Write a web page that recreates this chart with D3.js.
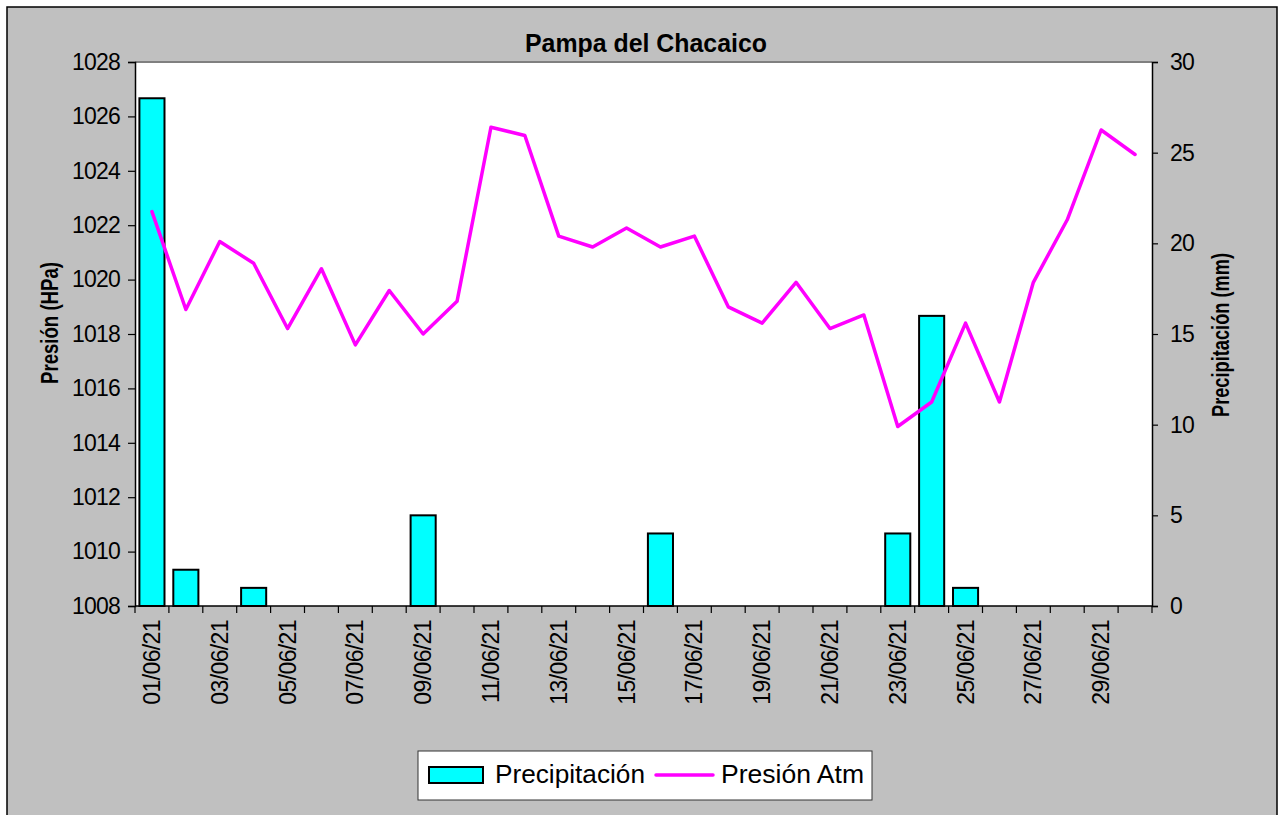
<!DOCTYPE html>
<html>
<head>
<meta charset="utf-8">
<script src="https://cdn.jsdelivr.net/npm/d3@7"></script>
<style>
  body { margin: 0; background: #fff; }
  svg { display: block; font-family: "Liberation Sans", Arial, sans-serif; }
</style>
</head>
<body>
<svg id="chart" width="1278" height="815"></svg>
<script>
const days = ['01/06/21','02/06/21','03/06/21','04/06/21','05/06/21','06/06/21','07/06/21','08/06/21','09/06/21','10/06/21',
  '11/06/21','12/06/21','13/06/21','14/06/21','15/06/21','16/06/21','17/06/21','18/06/21','19/06/21','20/06/21',
  '21/06/21','22/06/21','23/06/21','24/06/21','25/06/21','26/06/21','27/06/21','28/06/21','29/06/21','30/06/21'];
const precipitacion = [28, 2, 0, 1, 0, 0, 0, 0, 5, 0, 0, 0, 0, 0, 0, 4, 0, 0, 0, 0, 0, 0, 4, 16, 1, 0, 0, 0, 0, 0];
const presion = [1022.5, 1018.9, 1021.4, 1020.6, 1018.2, 1020.4, 1017.6, 1019.6, 1018.0, 1019.2,
  1025.6, 1025.3, 1021.6, 1021.2, 1021.9, 1021.2, 1021.6, 1019.0, 1018.4, 1019.9,
  1018.2, 1018.7, 1014.6, 1015.5, 1018.4, 1015.5, 1019.9, 1022.2, 1025.5, 1024.6];
const presionTicks = d3.range(1008, 1029, 2);
const precipTicks = d3.range(0, 31, 5);

const svg = d3.select('#chart');
const plotL = 135, plotR = 1152, plotT = 62, plotB = 606;

// chart background + frame
svg.append('rect').attr('x', 7).attr('y', 7).attr('width', 1270).attr('height', 820)
  .attr('fill', '#c0c0c0').attr('stroke', '#000').attr('stroke-width', 1.5);
svg.append('rect').attr('x', plotL).attr('y', plotT).attr('width', plotR - plotL).attr('height', plotB - plotT)
  .attr('fill', '#fff');
svg.append('line').attr('x1', plotL).attr('x2', plotR).attr('y1', plotT).attr('y2', plotT)
  .attr('stroke', '#808080').attr('stroke-width', 2);

const x = d3.scaleBand().domain(days).range([plotL, plotR]).paddingInner(0.26).paddingOuter(0.13);
const yP = d3.scaleLinear().domain([1008, 1028]).range([plotB, plotT]);
const yR = d3.scaleLinear().domain([0, 30]).range([plotB, plotT]);
const step = x.step();

// bars
svg.append('g').selectAll('rect')
  .data(days.map((d, i) => ({ d, v: precipitacion[i] })).filter(o => o.v > 0))
  .enter().append('rect')
  .attr('x', o => x(o.d))
  .attr('y', o => yR(o.v))
  .attr('width', x.bandwidth())
  .attr('height', o => plotB - yR(o.v))
  .attr('fill', '#00ffff')
  .attr('stroke', '#000')
  .attr('stroke-width', 2);

// pressure line
svg.append('path')
  .datum(presion)
  .attr('fill', 'none')
  .attr('stroke', '#ff00ff')
  .attr('stroke-width', 3.5)
  .attr('stroke-linejoin', 'round')
  .attr('stroke-linecap', 'round')
  .attr('d', d3.line().x((d, i) => x(days[i]) + x.bandwidth() / 2).y(d => yP(d)));

// left axis
const gl = svg.append('g').attr('transform', `translate(${plotL},0)`)
  .call(d3.axisLeft(yP).tickValues(presionTicks).tickSize(7).tickPadding(8).tickFormat(d3.format('d')));
// right axis
const gr = svg.append('g').attr('transform', `translate(${plotR},0)`)
  .call(d3.axisRight(yR).tickValues(precipTicks).tickSize(6).tickPadding(12));
[gl, gr].forEach(g => {
  g.select('.domain').attr('stroke', '#000').attr('stroke-width', 1.5);
  g.selectAll('.tick line').attr('stroke', '#000').attr('stroke-width', 1.2);
  g.selectAll('.tick text').attr('font-size', 23).attr('letter-spacing', -0.8)
    .attr('fill', '#000').attr('font-family', '"Liberation Sans", Arial, sans-serif');
});

// bottom axis: ticks at category boundaries, labels every other day
svg.append('line').attr('x1', plotL).attr('x2', plotR).attr('y1', plotB).attr('y2', plotB)
  .attr('stroke', '#000').attr('stroke-width', 1.5);
svg.append('g').selectAll('line')
  .data(days)
  .enter().append('line')
  .attr('x1', d => x(d) - step * 0.13).attr('x2', d => x(d) - step * 0.13)
  .attr('y1', plotB).attr('y2', plotB + 7)
  .attr('stroke', '#000').attr('stroke-width', 1.2);
svg.append('line').attr('x1', plotR).attr('x2', plotR).attr('y1', plotB).attr('y2', plotB + 7)
  .attr('stroke', '#000').attr('stroke-width', 1.2);
svg.append('g').selectAll('text')
  .data(days.filter((d, i) => i % 2 === 0))
  .enter().append('text')
  .attr('transform', d => `translate(${x(d) + x.bandwidth() / 2 + 8},620) rotate(-90)`)
  .attr('text-anchor', 'end')
  .attr('font-size', 23)
  .attr('letter-spacing', -0.6)
  .text(d => d);

// title
svg.append('text').attr('x', 646).attr('y', 52).attr('text-anchor', 'middle')
  .attr('font-size', 26).attr('font-weight', 'bold')
  .attr('textLength', 242).attr('lengthAdjust', 'spacingAndGlyphs')
  .text('Pampa del Chacaico');

// axis titles
svg.append('text').attr('transform', 'translate(58,323) rotate(-90)').attr('text-anchor', 'middle')
  .attr('font-size', 23).attr('font-weight', 'bold')
  .attr('font-family', '"Liberation Sans Narrow", "Arial Narrow", "Liberation Sans", sans-serif')
  .attr('textLength', 122).attr('lengthAdjust', 'spacingAndGlyphs')
  .text('Presión (HPa)');
svg.append('text').attr('transform', 'translate(1229,335) rotate(-90)').attr('text-anchor', 'middle')
  .attr('font-size', 23).attr('font-weight', 'bold')
  .attr('font-family', '"Liberation Sans Narrow", "Arial Narrow", "Liberation Sans", sans-serif')
  .attr('textLength', 164).attr('lengthAdjust', 'spacingAndGlyphs')
  .text('Precipitación (mm)');

// legend
const lg = svg.append('g');
lg.append('rect').attr('x', 418).attr('y', 751).attr('width', 454).attr('height', 49)
  .attr('fill', '#fff').attr('stroke', '#333').attr('stroke-width', 1);
lg.append('rect').attr('x', 429).attr('y', 767).attr('width', 54).attr('height', 16)
  .attr('fill', '#00ffff').attr('stroke', '#000').attr('stroke-width', 2);
lg.append('text').attr('x', 495).attr('y', 783).attr('font-size', 26)
  .attr('textLength', 150).attr('lengthAdjust', 'spacingAndGlyphs').text('Precipitación');
lg.append('line').attr('x1', 656).attr('x2', 713).attr('y1', 775).attr('y2', 775)
  .attr('stroke', '#ff00ff').attr('stroke-width', 3.5).attr('stroke-linecap', 'round');
lg.append('text').attr('x', 721).attr('y', 783).attr('font-size', 26)
  .attr('textLength', 143).attr('lengthAdjust', 'spacingAndGlyphs').text('Presión Atm');
</script>
</body>
</html>
